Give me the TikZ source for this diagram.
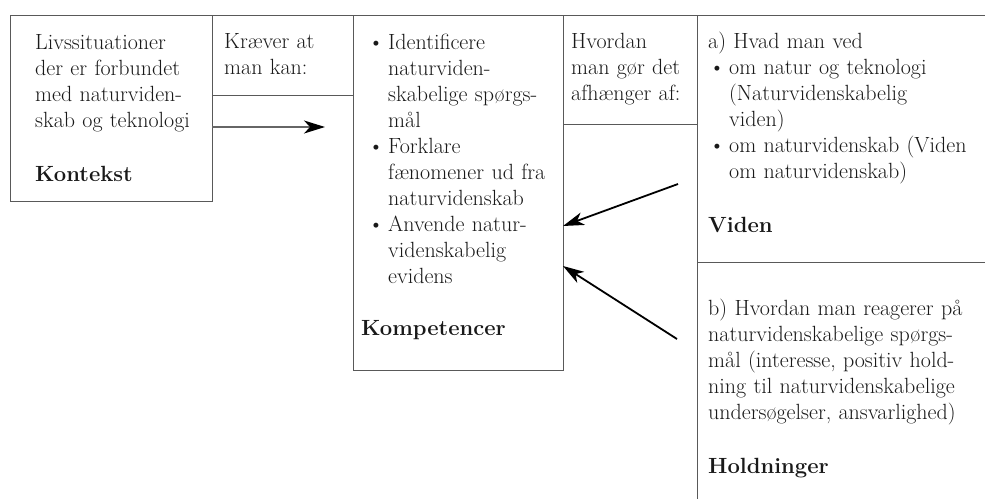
\documentclass[tikz,border=0pt]{standalone}
\usepackage{tikz}
\usetikzlibrary{arrows.meta}

\newcommand{\bul}{\makebox[21pt][l]{\hspace{1pt}\textbullet}}
\newcommand{\ind}{\hspace*{21pt}}

\begin{document}
\begin{tikzpicture}[x=1pt, y=-1pt,
    rule/.style={draw=black!65, line width=0.8pt},
    boxnode/.style={rule, inner sep=0pt, outer sep=0pt, anchor=north west},
    txt/.style={anchor=base west, inner sep=0pt, align=left, text width=275pt,
        text=black!90, font=\fontsize{22}{26}\selectfont},
    arr/.style={-{Stealth[length=21pt, width=13pt, inset=6pt, color=black]}, line width=1.8pt}]
            \useasboundingbox (0,0) rectangle (985,499);
            % boxes and rules
            \node[boxnode, minimum width=202pt, minimum height=186pt] (kontekst) at (10,15) {};
            \node[boxnode, minimum width=210pt, minimum height=355pt] (kompetencer) at (353,15) {};
            \coordinate (split) at (697,15);
            \coordinate (rtop) at (985,15);
            \coordinate (ra) at (0,95);
            \coordinate (rb) at (0,124);
            \coordinate (rc) at (0,262);
            \draw[rule] (kontekst.north west) -- (rtop);
            \draw[rule] (kontekst.east |- ra) -- (kompetencer.west |- ra);
            \draw[rule] (kompetencer.east |- rb) -- (split |- rb);
            \draw[rule] (split) -- (697,499);
            \draw[rule] (split |- rc) -- (rtop |- rc);
            % texts
            \node[txt] (ktxt) at (35,49) {Livssituationer\\der er forbundet\\med naturviden-\\skab og teknologi\\[28pt]\textbf{Kontekst}};
            \node[txt] (kraever) at (224,48) {Kræver at\\man kan:};
            \node[txt] (kliste) at (367,49) {\bul Identificere\\\ind naturviden-\\\ind skabelige spørgs-\\\ind mål\\\bul Forklare\\\ind fænomener ud fra\\\ind naturvidenskab\\\bul Anvende natur-\\\ind videnskabelig\\\ind evidens};
            \node[txt] (klbl) at (361,335) {\textbf{Kompetencer}};
            \node[txt] (hvordan) at (571,48) {Hvordan\\man gør det\\afhænger af:};
            \node[txt] (vtxt) at (708,48) {a) Hvad man ved\\\bul om natur og teknologi\\\ind (Naturvidenskabelig\\\ind viden)\\\bul om naturvidenskab (Viden\\\ind om naturvidenskab)\\[28pt]\textbf{Viden}};
            \node[txt] (htxt) at (708,315) {b) Hvordan man reagerer på\\naturvidenskabelige spørgs-\\mål (interesse, positiv hold-\\ning til naturvidenskabelige\\undersøgelser, ansvarlighed)\\[28pt]\textbf{Holdninger}};
            % arrows
            \coordinate (a1) at (325,127);
            \coordinate (v1) at (678,184);
            \coordinate (h1) at (677,339);
            \coordinate (p1) at (0,226);
            \coordinate (p2) at (0,266);
            \draw[arr, draw=black!60, line width=1.3pt] (kontekst.east |- a1) -- (a1);
            \draw[arr] (v1) -- (kompetencer.east |- p1);
            \draw[arr] (h1) -- (kompetencer.east |- p2);
        \end{tikzpicture}
\end{document}
